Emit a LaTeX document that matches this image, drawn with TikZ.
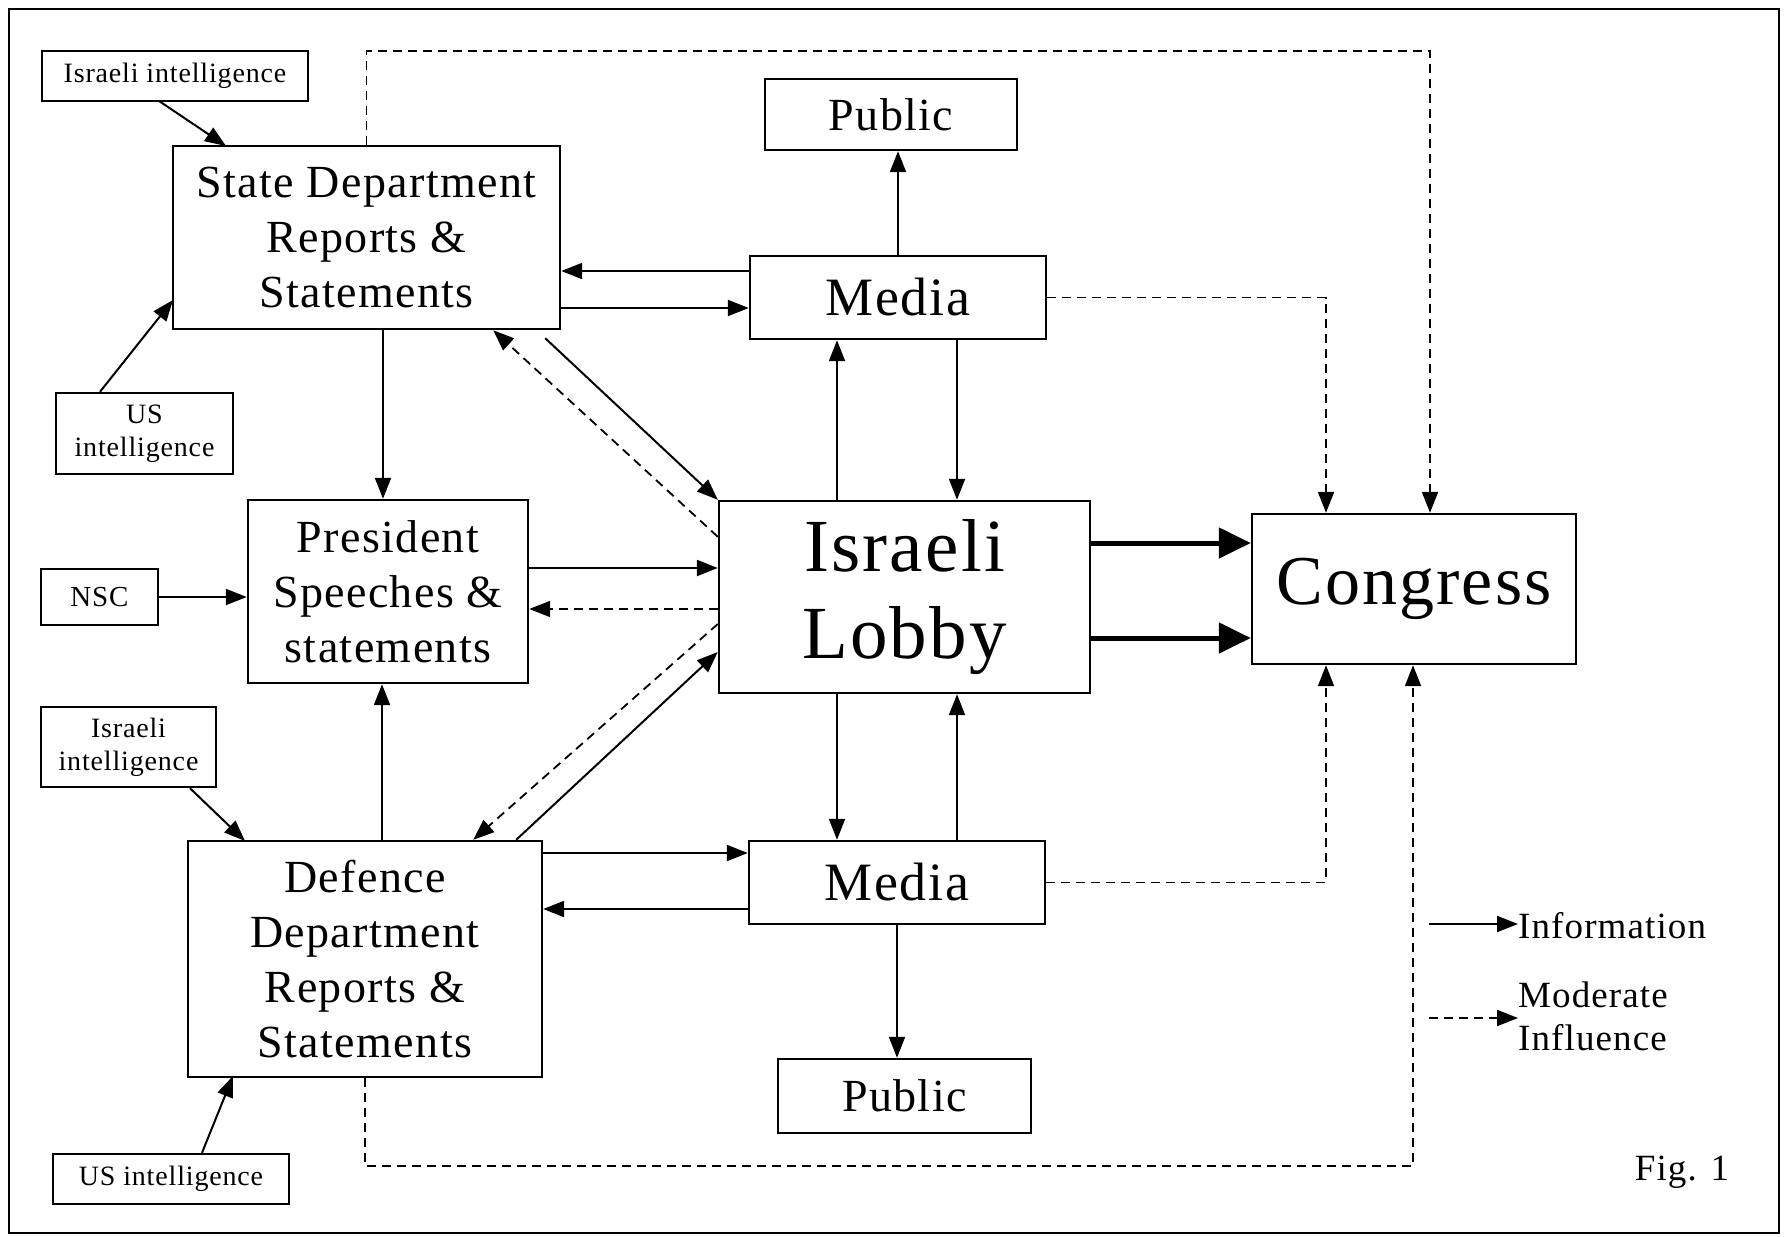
\documentclass[tikz,border=0pt]{standalone}
\usepackage{fontspec}
\setmainfont{Liberation Serif}[LetterSpace=3]
\usetikzlibrary{arrows.meta}
\begin{document}
\begin{tikzpicture}[x=1pt,y=-1pt,
  box/.style={draw, line width=2.4pt, rectangle, inner sep=0pt, align=center},
  info/.style={line width=2pt, -{Triangle[length=21pt,width=16pt]}},
  infl/.style={line width=1.8pt, dash pattern=on 9pt off 6pt, -{Triangle[length=21pt,width=16pt]}},
  strong/.style={line width=5pt, -{Triangle[length=32pt,width=30pt]}},
  bigtxt/.style={font=\fontsize{46}{55}\selectfont},
  smalltxt/.style={font=\fontsize{28}{33}\selectfont},
  legtxt/.style={font=\fontsize{37}{43}\selectfont},
]
\useasboundingbox (0,0) rectangle (1784,1236);
\draw[line width=2pt] (9,9) rectangle (1779,1233);

% nodes
\node[box, smalltxt, minimum width=266pt, minimum height=50pt] (isr1) at (175,76) {Israeli intelligence};
\node[box, bigtxt, minimum width=387pt, minimum height=183pt] (state) at (366.5,237.5) {State Department\\Reports \&\\Statements};
\node[box, smalltxt, minimum width=177pt, minimum height=81pt] (us1) at (144.5,433.5) {US\\intelligence};
\node[box, bigtxt, minimum width=252pt, minimum height=71pt] (pub1) at (891,114.5) {Public};
\node[box, font=\fontsize{54}{60}\selectfont, minimum width=296pt, minimum height=83pt] (med1) at (898,297.5) {Media};
\node[box, bigtxt, minimum width=280pt, minimum height=183pt] (pres) at (388,591.5) {President\\Speeches \&\\statements};
\node[box, font=\fontsize{29}{33}\selectfont, minimum width=117pt, minimum height=56pt] (nsc) at (99.5,597) {NSC};
\node[box, font=\fontsize{75}{87}\selectfont, minimum width=371pt, minimum height=192pt] (lobby) at (904.5,597) {Israeli\\Lobby};
\node[box, font=\fontsize{70}{80}\selectfont, minimum width=324pt, minimum height=150pt] (cong) at (1414,589) {Congress};
\node[box, smalltxt, minimum width=175pt, minimum height=80pt] (isr2) at (128.5,747) {Israeli\\intelligence};
\node[box, bigtxt, minimum width=354pt, minimum height=236pt] (def) at (365,959) {Defence\\Department\\Reports \&\\Statements};
\node[box, font=\fontsize{54}{60}\selectfont, minimum width=296pt, minimum height=83pt] (med2) at (897,882.5) {Media};
\node[box, bigtxt, minimum width=253pt, minimum height=74pt] (pub2) at (904.5,1096) {Public};
\node[box, smalltxt, minimum width=236pt, minimum height=50pt] (us2) at (171,1179) {US intelligence};

% intelligence inputs
\draw[info] (159,101) -- (226,146);
\draw[info] (us1.north -| 100,0) -- (173,300);
\draw[info] (isr2.south -| 190,0) -- (245,841);
\draw[info] (us2.north -| 202,0) -- (233,1076);
\draw[info] (nsc.east) -- (nsc.east -| pres.west);

% state <-> media
\draw[info] (med1.west |- 0,271) -- (state.east |- 0,271);
\draw[info] (state.east |- 0,308) -- (med1.west |- 0,308);
\draw[info] (med1.north) -- (med1.north |- pub1.south);
\draw[infl] (med1.east) -- (1326,297.5) -- (cong.north -| 1326,0);

% lobby <-> media
\draw[info] (lobby.north -| 837,0) -- (med1.south -| 837,0);
\draw[info] (med1.south -| 957,0) -- (lobby.north -| 957,0);
\draw[info] (lobby.south -| 837,0) -- (med2.north -| 837,0);
\draw[info] (med2.north -| 957,0) -- (lobby.south -| 957,0);

% state -> president, defence -> president
\draw[info] (state.south -| 383,0) -- (pres.north -| 383,0);
\draw[info] (def.north -| 382,0) -- (pres.south -| 382,0);

% diagonals
\draw[info] ([shift={(-16,8)}]state.south east) -- (lobby.north west);
\draw[infl] ([yshift=-37pt]lobby.north west) -- ([xshift=-68pt]state.south east);
\draw[infl] ([yshift=-27pt]lobby.west) -- ([xshift=-70pt]def.north east);
\draw[info] ([xshift=-27pt]def.north east) -- ([yshift=-55pt]lobby.west);

% president <-> lobby
\draw[info] (pres.east |- 0,568) -- (lobby.west |- 0,568);
\draw[infl] (lobby.west |- 0,609) -- (pres.east |- 0,609);

% defence <-> media
\draw[info] (def.east |- 0,853) -- (med2.west |- 0,853);
\draw[info] (med2.west |- 0,909) -- (def.east |- 0,909);
\draw[info] (med2.south) -- (med2.south |- pub2.north);
\draw[infl] (med2.east) -- (1326,882.5) -- (cong.south -| 1326,0);

% lobby -> congress
\draw[strong] (lobby.east |- 0,543) -- (cong.west |- 0,543);
\draw[strong] (lobby.east |- 0,638) -- (cong.west |- 0,638);

% long dashed loops
\draw[infl] (state.north) -- (366.5,51) -- (1430,51) -- (cong.north -| 1430,0);
\draw[infl] (def.south) -- (365,1166) -- (1413,1166) -- (cong.south -| 1413,0);

% legend
\coordinate (li) at (1429,924);
\node[anchor=west, inner sep=0pt, legtxt] (linfo) at (1518,926) {Information};
\draw[info] (li) -- (linfo.west |- li);
\coordinate (lm) at (1429,1018);
\node[anchor=west, inner sep=0pt, align=left, legtxt] (lmod) at (1518,1016) {Moderate\\Influence};
\draw[infl] (lm) -- (lmod.west |- lm);
\node[inner sep=0pt, legtxt] (fig) at (1682,1172) {Fig. 1};
\end{tikzpicture}
\end{document}
